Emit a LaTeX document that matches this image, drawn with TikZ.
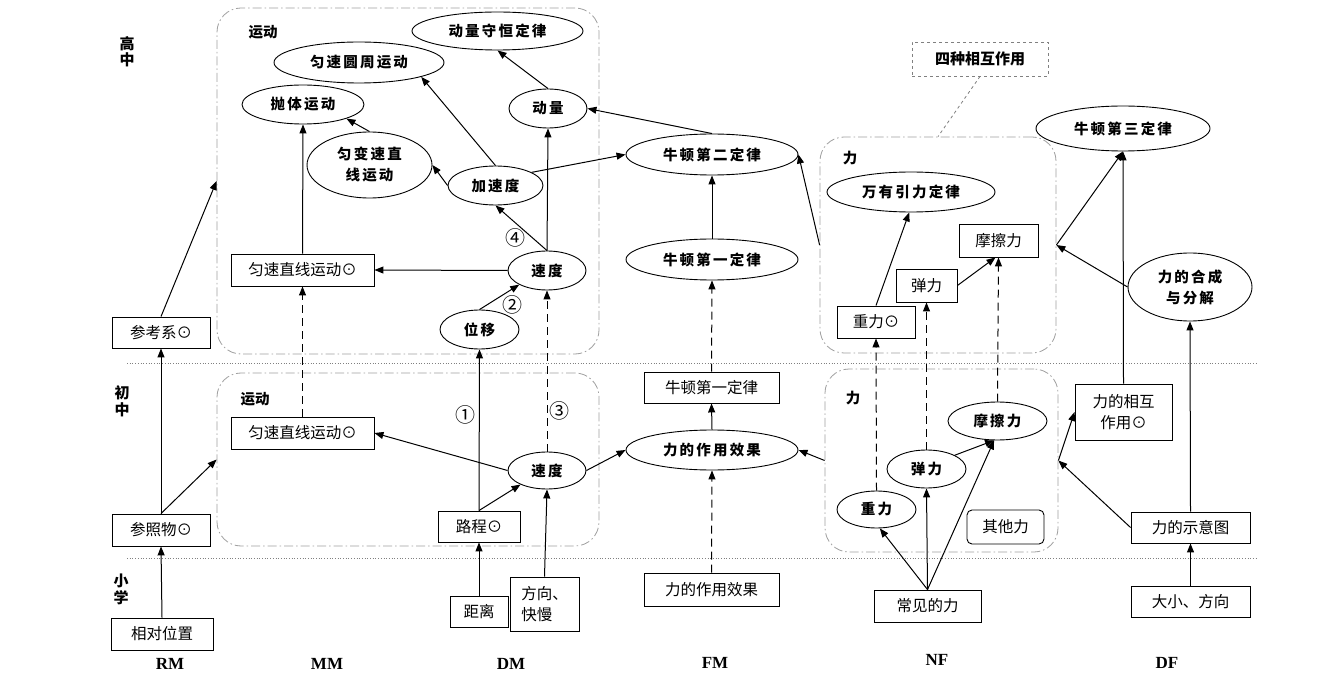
\documentclass[tikz,border=0pt]{standalone}
\usepackage{fontspec}
\setmainfont{Liberation Serif}
\newfontfamily\cjk{Noto Sans CJK SC}
\newfontfamily\cjkb[LetterSpace=15]{Noto Sans CJK SC}
\usetikzlibrary{shapes.geometric,arrows.meta}
\tikzset{
 ell/.style={ellipse,draw,line width=0.9pt,inner sep=0pt,align=center,font=\cjkb\bfseries\fontsize{14.5}{21}\selectfont},
 bx/.style={rectangle,draw,line width=0.9pt,inner sep=0pt,align=center,font=\cjk\fontsize{15.5}{21}\selectfont},
 grp/.style={draw=gray!75,line width=0.8pt,dash pattern=on 9pt off 3pt on 1.5pt off 3pt,rounded corners=24pt,inner sep=0pt},
 arr/.style={line width=1pt,-{Triangle[length=9pt,width=7pt]}},
 darr/.style={arr,dash pattern=on 8pt off 5pt},
 lbl/.style={inner sep=0pt,align=center,font=\cjk\bfseries\fontsize{14.5}{16}\selectfont},
 col/.style={inner sep=0pt,font=\bfseries\fontsize{17}{19}\selectfont},
 num/.style={inner sep=0pt,font=\cjk\fontsize{20}{22}\selectfont},
 dotl/.style={draw=gray,line width=0.7pt,dotted},
}
\begin{document}
\begin{tikzpicture}[x=1pt,y=-1pt]
\useasboundingbox[fill=white] (0,0) rectangle (1336,676);
% level separators
\draw[dotl] (127,363) -- (1258,363);
\draw[dotl] (127,558) -- (1258,558);
% groups
\node[grp,minimum width=382pt,minimum height=346pt] (gMH) at (408,181) {};
\node[grp,minimum width=382pt,minimum height=173pt] (gMJ) at (408,459.5) {};
\node[grp,minimum width=236pt,minimum height=216pt] (gFH) at (938,245) {};
\node[grp,minimum width=233pt,minimum height=183pt] (gFJ) at (941.5,460.5) {};
% level labels
\node[lbl,font=\cjk\bfseries\fontsize{15}{16}\selectfont] (lgz) at (127,52) {高\\中};
\node[lbl,font=\cjk\bfseries\fontsize{15}{17}\selectfont] (lcz) at (122,401) {初\\中};
\node[lbl,font=\cjk\bfseries\fontsize{15}{17}\selectfont] (lxx) at (121,589) {小\\学};
% column labels
\node[col] (cRM) at (170,664) {RM};
\node[col] (cMM) at (327,664) {MM};
\node[col] (cDM) at (511,664) {DM};
\node[col] (cFM) at (715,663) {FM};
\node[col] (cNF) at (937,660) {NF};
\node[col] (cDF) at (1167,663) {DF};
% group labels
\node[lbl] (tMH) at (263,32) {运动};
\node[lbl] (tMJ) at (255,399) {运动};
\node[lbl] (tFH) at (850,158) {力};
\node[lbl] (tFJ) at (853,398) {力};
% high school: motion
\node[ell,minimum width=171pt,minimum height=38pt] (dlsh) at (497.5,31) {动量守恒定律};
\node[ell,minimum width=170pt,minimum height=41pt] (ysyz) at (359,62.5) {匀速圆周运动};
\node[ell,minimum width=122pt,minimum height=39pt] (ptyd) at (303,104.5) {抛体运动};
\node[ell,minimum width=78pt,minimum height=39pt] (dl) at (548,108.5) {动量};
\node[ell,minimum width=125pt,minimum height=66pt] (ybs) at (369.5,165) {匀变速直\\线运动};
\node[ell,minimum width=95pt,minimum height=39pt] (jsd) at (495.5,185.5) {加速度};
\node[ell,minimum width=78pt,minimum height=39pt] (sdH) at (547,270.5) {速度};
\node[ell,minimum width=79pt,minimum height=39pt] (wy) at (479.5,329.5) {位移};
\node[bx,minimum width=143pt,minimum height=32pt] (yszxH) at (302.5,270) {匀速直线运动⊙};
\node[bx,minimum width=98pt,minimum height=31pt] (ckx) at (161,332.5) {参考系⊙};
% high school: dynamics
\node[ell,minimum width=172pt,minimum height=41pt] (n2) at (712,154.5) {牛顿第二定律};
\node[ell,minimum width=172pt,minimum height=41pt] (n1) at (712,259.5) {牛顿第一定律};
\node[ell,minimum width=168pt,minimum height=40pt] (wyyl) at (911,192) {万有引力定律};
\node[bx,minimum width=79pt,minimum height=33pt] (mclH) at (998.5,240.5) {摩擦力};
\node[bx,minimum width=61pt,minimum height=33pt] (tlH) at (926.5,285.5) {弹力};
\node[bx,minimum width=78pt,minimum height=32pt] (zlH) at (876,322) {重力⊙};
\node[bx,draw=gray,dashed,minimum width=136pt,minimum height=34pt,font=\cjk\bfseries\fontsize{15}{17}\selectfont] (szxh) at (980,59) {四种相互作用};
\node[ell,minimum width=174pt,minimum height=45pt] (n3) at (1123,128.5) {牛顿第三定律};
\node[ell,minimum width=124pt,minimum height=68pt] (hcfj) at (1190,287) {力的合成\\与分解};
% junior school
\node[bx,minimum width=143pt,minimum height=32pt] (yszxJ) at (302.5,433) {匀速直线运动⊙};
\node[ell,minimum width=78pt,minimum height=37pt] (sdJ) at (547,470.5) {速度};
\node[bx,minimum width=82pt,minimum height=31pt] (lc) at (479,526.5) {路程⊙};
\node[bx,minimum width=98pt,minimum height=32pt] (czw) at (161,530) {参照物⊙};
\node[bx,minimum width=135pt,minimum height=31pt] (n1b) at (711.5,387.5) {牛顿第一定律};
\node[ell,minimum width=172pt,minimum height=40pt] (lzy) at (712,450) {力的作用效果};
\node[ell,minimum width=99pt,minimum height=38pt] (mclJ) at (997.5,421) {摩擦力};
\node[ell,minimum width=79pt,minimum height=38pt] (tlJ) at (926.5,469) {弹力};
\node[ell,minimum width=79pt,minimum height=37pt] (zlJ) at (876.5,509.5) {重力};
\node[bx,rounded corners=5pt,minimum width=77pt,minimum height=34pt] (qtl) at (1005.5,527) {其他力};
\node[bx,minimum width=97pt,minimum height=56pt] (xhzy) at (1123.5,412) {力的相互\\作用⊙};
\node[bx,minimum width=119pt,minimum height=31pt] (syt) at (1190.5,527.5) {力的示意图};
% primary school
\node[bx,minimum width=102pt,minimum height=32pt] (xdwz) at (162,634) {相对位置};
\node[bx,minimum width=58pt,minimum height=31pt] (jl) at (479,611.5) {距离};
\node[bx,align=left,minimum width=69pt,minimum height=54pt] (fxkm) at (544.5,604) {方向、\\快慢};
\node[bx,minimum width=135pt,minimum height=33pt] (lzyb) at (711.5,589.5) {力的作用效果};
\node[bx,minimum width=107pt,minimum height=32pt] (cjl) at (927.5,606) {常见的力};
\node[bx,minimum width=119pt,minimum height=31pt] (dxfx) at (1190.5,601.5) {大小、方向};
% circled numbers
\node[num] (c1) at (465,415) {①};
\node[num] (c2) at (512,305) {②};
\node[num] (c3) at (559,411) {③};
\node[num] (c4) at (515,238) {④};
% connectors: RM
\draw[arr] (ckx.north) -- (gMH.west);
\draw[arr] (czw.north) -- (ckx.south);
\draw[arr] (czw.north) -- (gMJ.west);
\draw[arr] (xdwz.north) -- (czw.south);
% MM / DM high
\draw[arr] (yszxH.north) -- (ptyd.south);
\draw[arr] (ybs.north) -- (ptyd.-18);
\draw[arr] (jsd.north) -- (ysyz.-13);
\draw[arr] (jsd.west) -- (ybs.east);
\draw[arr] (jsd.20) -- (n2.west);
\draw[arr] (dl.north) -- (dlsh.south);
\draw[arr] (n2.north) -- (dl.east);
\draw[arr] (sdH.north) -- (dl.south);
\draw[arr] (sdH.north) -- (jsd.south);
\draw[arr] (sdH.west) -- (yszxH.east);
\draw[arr] (wy.north) -- (sdH.207);
\draw[darr] (sdJ.north) -- (sdH.south);
\draw[darr] (yszxJ.north) -- (yszxH.south);
\draw[arr] (lc.north) -- (wy.south);
% junior
\draw[arr] (lc.north) -- (sdJ.208);
\draw[arr] (sdJ.west) -- (yszxJ.east);
\draw[arr] (jl.north) -- (lc.south);
\draw[arr] (fxkm.north) -- (sdJ.south);
\draw[arr] (sdJ.east) -- (lzy.west);
% FM
\draw[arr] (lzy.north) -- (n1b.south);
\draw[darr] (n1b.north) -- (n1.south);
\draw[arr] (n1.north) -- (n2.south);
\draw[darr] (lzyb.north) -- (lzy.south);
\draw[arr] (gFJ.west) -- (lzy.east);
\draw[arr] (gFH.west) -- (n2.east);
% NF
\draw[arr] (zlH.north) -- (wyyl.-95);
\draw[arr] (tlH.east) -- ([xshift=-3pt]mclH.south);
\draw[darr] (zlJ.north) -- (zlH.south);
\draw[darr] (tlJ.north) -- (tlH.south);
\draw[darr] (mclJ.north) -- (mclH.south);
\draw[arr] (cjl.north) -- (zlJ.-80);
\draw[arr] (cjl.north) -- (tlJ.south);
\draw[arr] (cjl.north) -- (mclJ.-100);
\draw[arr] (tlJ.26) -- (mclJ.-100);
\draw[draw=gray,line width=0.8pt,dashed] (szxh.south) -- (gFH.north);
% DF
\draw[arr] (gFH.east) -- (n3.south);
\draw[arr] (hcfj.west) -- (gFH.east);
\draw[arr] (xhzy.north) -- (n3.south);
\draw[arr] (gFJ.east) -- (xhzy.west);
\draw[arr] (syt.west) -- (gFJ.east);
\draw[arr] (syt.north) -- (hcfj.south);
\draw[arr] (dxfx.north) -- (syt.south);
\end{tikzpicture}
\end{document}
